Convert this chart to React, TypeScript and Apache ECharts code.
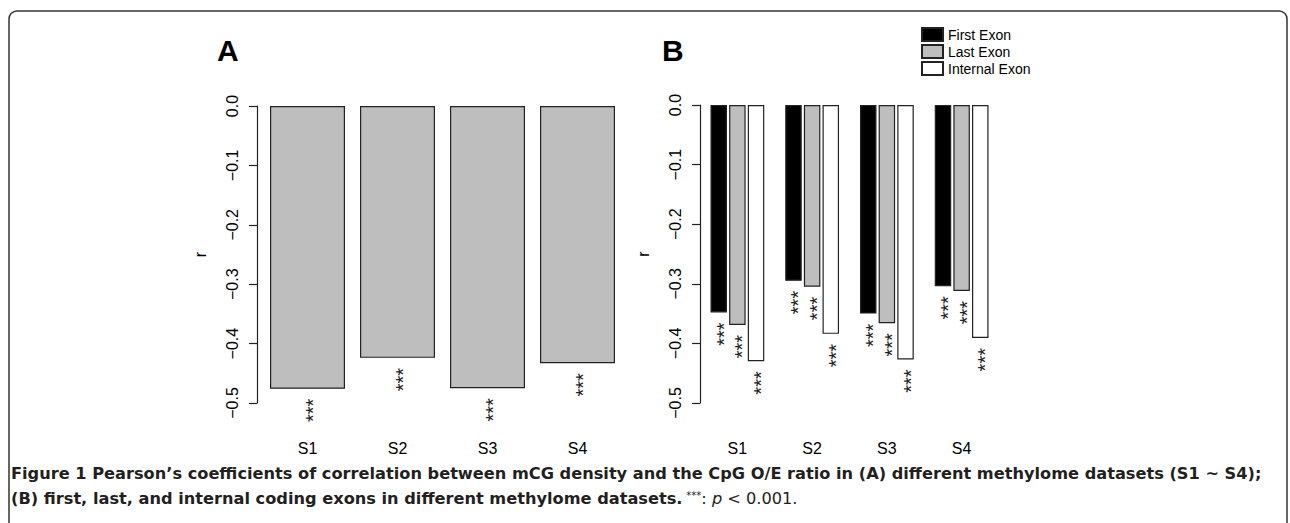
import React, { useEffect, useRef } from "react";
import * as echarts from "echarts";

const categories = ["S1", "S2", "S3", "S4"];
const panelA = [-0.476, -0.424, -0.475, -0.433];
const firstExon = [-0.348, -0.295, -0.35, -0.304];
const lastExon = [-0.369, -0.305, -0.366, -0.312];
const internalExon = [-0.43, -0.384, -0.427, -0.391];
const seriesNamesB = ["First Exon", "Last Exon", "Internal Exon"];
const starText = "***";
const captionLine1 =
  "Figure 1 Pearson\u2019s coefficients of correlation between mCG density and the CpG O/E ratio in (A) different methylome datasets (S1 ~ S4);";
const captionLine2Bold = "(B) first, last, and internal coding exons in different methylome datasets.";

const RFONT = "'Liberation Sans', Arial, Helvetica, sans-serif";
const CFONT = "'DejaVu Sans', 'Open Sans', sans-serif";
const INK = "#222";

const fmt = (v: number) => {
  const s = Math.abs(v).toFixed(1);
  return v < -1e-9 ? "\u2212" + s : s;
};

const starLabel = {
  show: true,
  position: "bottom",
  distance: 10,
  rotate: 90,
  align: "right",
  verticalAlign: "middle",
  offset: [0, 5],
  formatter: starText,
  fontSize: 20,
  fontFamily: RFONT,
  color: "#222",
};

export default function App() {
  const ref = useRef<HTMLDivElement>(null);
  useEffect(() => {
    if (!ref.current) return;
    const chart = echarts.init(ref.current, undefined, { renderer: "svg" });
    const yAxisBase = {
      type: "value",
      min: -0.5,
      max: 0,
      interval: 0.1,
      name: "r",
      nameLocation: "middle",
      nameRotate: 90,
      nameGap: 49,
      nameTextStyle: { fontSize: 16, fontFamily: RFONT, color: "#000" },
      splitLine: { show: false },
      axisLine: { show: true, lineStyle: { color: INK, width: 1.2 } },
      axisTick: { show: true, length: 8, lineStyle: { color: INK, width: 1.2 } },
      axisLabel: {
        rotate: 90,
        margin: 17,
        fontSize: 16,
        fontFamily: RFONT,
        color: "#000",
        formatter: (v: number) => fmt(v),
      },
    };
    const xAxisBase = {
      type: "category",
      data: categories,
      axisLine: { show: false, onZero: false },
      axisTick: { show: false },
      axisLabel: { margin: 37, fontSize: 16, fontFamily: RFONT, color: "#000" },
    };
    const colorsB = ["#000000", "#bebebe", "#ffffff"];
    const dataB = [firstExon, lastExon, internalExon];
    chart.setOption({
      animation: false,
      backgroundColor: "#fff",
      grid: [
        { left: 262.5, top: 106, width: 360, height: 297 },
        { left: 700, top: 105, width: 299, height: 298 },
      ],
      xAxis: [
        { ...xAxisBase, gridIndex: 0 },
        { ...xAxisBase, gridIndex: 1 },
      ],
      yAxis: [
        { ...yAxisBase, gridIndex: 0, offset: 5.5 },
        { ...yAxisBase, gridIndex: 1 },
      ],
      legend: {
        orient: "vertical",
        left: 921,
        top: 27,
        padding: 0,
        itemWidth: 21,
        itemHeight: 13,
        itemGap: 2,
        selectedMode: false,
        textStyle: { fontSize: 14, fontFamily: RFONT, color: "#000" },
        data: seriesNamesB.map((n) => ({ name: n, icon: "rect" })),
      },
      series: [
        {
          name: "A",
          type: "bar",
          xAxisIndex: 0,
          yAxisIndex: 0,
          data: panelA,
          barWidth: 75,
          itemStyle: { color: "#bebebe", borderColor: INK, borderWidth: 1.2 },
          label: starLabel,
        },
        ...seriesNamesB.map((n, i) => ({
          name: n,
          type: "bar",
          xAxisIndex: 1,
          yAxisIndex: 1,
          data: dataB[i],
          barWidth: 16.5,
          barGap: "13%",
          itemStyle: { color: colorsB[i], borderColor: INK, borderWidth: 1.2 },
          label: starLabel,
        })),
      ],
      graphic: [
        {
          type: "rect",
          shape: { x: 9, y: 11, width: 1278, height: 560, r: [8, 8, 0, 0] },
          style: { fill: "none", stroke: "#333", lineWidth: 1.5 },
          silent: true,
        },
        {
          type: "text",
          left: 217,
          top: 35,
          style: { text: "A", fontSize: 30, fontWeight: "bold", fontFamily: RFONT, fill: "#000" },
        },
        {
          type: "text",
          left: 662,
          top: 35,
          style: { text: "B", fontSize: 30, fontWeight: "bold", fontFamily: RFONT, fill: "#000" },
        },
        {
          type: "text",
          x: 11,
          y: 473,
          style: {
            text: captionLine1,
            fontSize: 16.2,
            fontWeight: "bold",
            fontFamily: CFONT,
            fill: "#231f20",
            verticalAlign: "middle",
          },
        },
        {
          type: "text",
          x: 11,
          y: 498,
          style: {
            text: "{b|" + captionLine2Bold + "} {s|***}{n|: }{i|p}{n| < 0.001.}",
            fontFamily: CFONT,
            verticalAlign: "middle",
            rich: {
              b: { fontSize: 16.2, fontWeight: "bold", fontFamily: CFONT, fill: "#231f20" },
              s: { fontSize: 10, fontFamily: CFONT, fill: "#231f20", verticalAlign: "top" },
              n: { fontSize: 16.2, fontFamily: CFONT, fill: "#231f20" },
              i: { fontSize: 16.2, fontStyle: "italic", fontFamily: CFONT, fill: "#231f20" },
            },
          },
        },
      ],
    });
    return () => chart.dispose();
  }, []);
  return (
    <div
      ref={ref}
      style={{ position: "absolute", left: 0, top: 0, width: 1290, height: 523 }}
    />
  );
}
